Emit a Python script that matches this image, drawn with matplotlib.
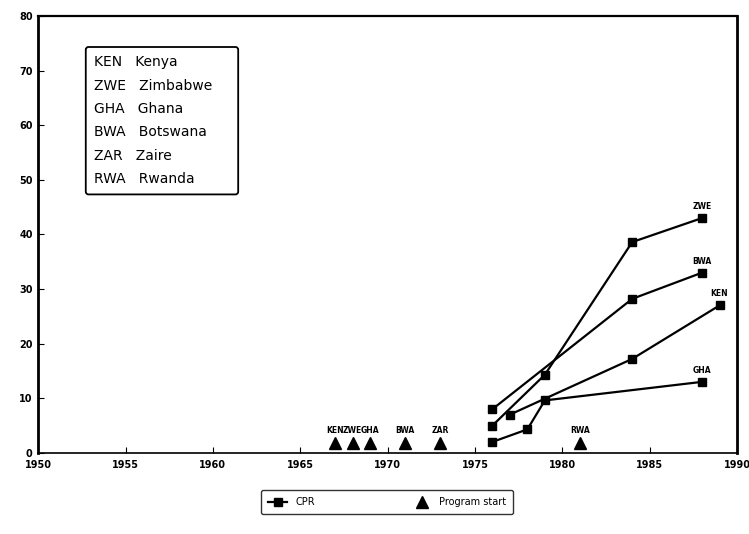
import matplotlib
matplotlib.use('Agg')
import matplotlib.pyplot as plt
from matplotlib.lines import Line2D

# CPR series (year, percent)
ken_years = [1977, 1984, 1989]
ken_cpr = [7, 17.2, 27]
zwe_years = [1976, 1979, 1984, 1988]
zwe_cpr = [5, 14.3, 38.6, 43]
gha_years = [1976, 1978, 1979, 1988]
gha_cpr = [2, 4.3, 9.6, 13]
bwa_years = [1976, 1984, 1988]
bwa_cpr = [8, 28.2, 33]

# program start
start_codes = ['KEN', 'ZWE', 'GHA', 'BWA', 'ZAR', 'RWA']
start_years = [1967, 1968, 1969, 1971, 1973, 1981]
start_level = 1.8

key_codes = ['KEN', 'ZWE', 'GHA', 'BWA', 'ZAR', 'RWA']
key_names = ['Kenya', 'Zimbabwe', 'Ghana', 'Botswana', 'Zaire', 'Rwanda']

fig = plt.figure(figsize=(7.49, 5.34), dpi=100)
ax = fig.add_axes([0.051, 0.152, 0.933, 0.818])

series = [('KEN', ken_years, ken_cpr), ('ZWE', zwe_years, zwe_cpr),
          ('GHA', gha_years, gha_cpr), ('BWA', bwa_years, bwa_cpr)]
for code, yrs, vals in series:
    ax.plot(yrs, vals, color='black', lw=1.6, marker='s', ms=6)
    ax.annotate(code, (yrs[-1], vals[-1]), xytext=(0, 5), textcoords='offset points',
                ha='center', va='bottom', fontsize=5.5, fontweight='bold')

ax.plot(start_years, [start_level] * len(start_years), ls='none', marker='^',
        color='black', ms=9)
for code, yr in zip(start_codes, start_years):
    ax.annotate(code, (yr, start_level), xytext=(0, 6), textcoords='offset points',
                ha='center', va='bottom', fontsize=5.5, fontweight='bold')

ax.set_xlim(1950, 1990)
ax.set_ylim(0, 80)
ax.set_xticks(range(1950, 1991, 5))
ax.set_yticks(range(0, 81, 10))
ax.tick_params(direction='in', length=4, labelsize=7)
ax.tick_params(axis='x', pad=5)
ax.tick_params(axis='y', pad=4)
for lbl in ax.get_xticklabels() + ax.get_yticklabels():
    lbl.set_fontweight('bold')
for s in ax.spines.values():
    s.set_linewidth(1.2)
ax.spines['left'].set_linewidth(2)
ax.spines['right'].set_linewidth(2)
ax.spines['top'].set_linewidth(1.6)

# country key box
key_text = '\n'.join(f'{c}   {n}    ' for c, n in zip(key_codes, key_names))
ax.text(0.08, 0.91, key_text, transform=ax.transAxes, va='top', ha='left',
        fontsize=10, linespacing=1.85,
        bbox=dict(boxstyle='round,pad=0.6,rounding_size=0.2', fc='white', ec='black', lw=1.3))

handles = [Line2D([], [], color='black', lw=1.6, marker='s', ms=6),
           Line2D([], [], color='black', ls='none', marker='^', ms=9)]
fig.legend(handles, ['CPR', 'Program start'], loc='center', bbox_to_anchor=(0.517, 0.06),
           ncol=2, fontsize=7, frameon=True, edgecolor='black', fancybox=True,
           columnspacing=10, handlelength=2, borderpad=0.7)

fig.savefig('out.png', dpi=100)
